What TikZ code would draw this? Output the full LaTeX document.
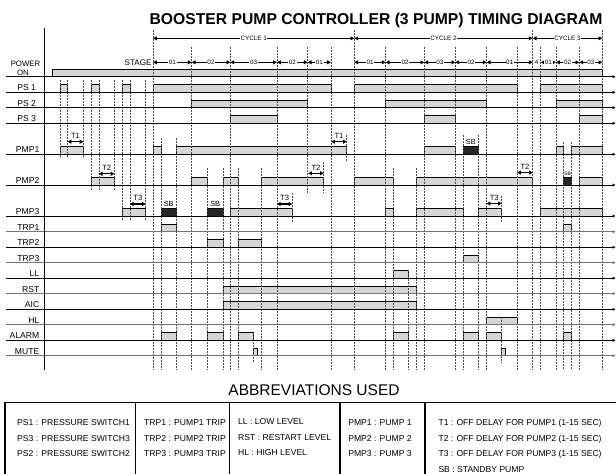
\documentclass[tikz,border=0pt]{standalone}
\usepackage{fontspec}
\setmainfont{Liberation Sans}
\usetikzlibrary{arrows.meta}
\newcommand\mybars[3][bar]{\foreach \xa/\xb in {#3}{\draw[#1] (\xa,#2) rectangle (\xb,#2-7.7);}}
\begin{document}
\begin{tikzpicture}[x=1pt,y=-1pt,
  bar/.style={draw=black, line width=0.6pt, fill=black!16},
  sbbar/.style={draw=black, line width=0.6pt, fill=black!85},
  vline/.style={draw=black!70, line width=0.6pt, dash pattern=on 2.2pt off 0.8pt},
  rowline/.style={line width=0.8pt, -{Triangle[length=3pt,width=2.8pt]}},
  lbl/.style={font=\fontsize{8.6}{9}\selectfont, inner sep=0pt},
  stg/.style={line width=0.9pt, {Triangle[length=3.8pt,width=3.8pt]}-{Triangle[length=3.8pt,width=3.8pt]}},
  stglbl/.style={font=\fontsize{6.3}{7}\selectfont, fill=white, inner sep=0.7pt},
  tarr/.style={line width=1.3pt, {Triangle[length=3.6pt,width=4pt]}-{Triangle[length=3.6pt,width=4pt]}},
  tlbl/.style={font=\fontsize{7.6}{8}\selectfont, inner sep=0pt, anchor=base},
  tab/.style={font=\fontsize{8.6}{9}\selectfont, inner sep=0pt, anchor=base west}]
\useasboundingbox (0,0) rectangle (616,474);

% ---------- bars ----------
\mybars{76.7}{52.3/602.3}
\mybars{92.3}{60/67.7, 91/99, 122.3/130, 153/331, 354.3/517.3, 540.7/602.3}
\mybars{107.7}{191.7/307.7, 385.7/486.7, 556/602.3}
\mybars{123.3}{230.3/277, 424.3/455.3, 579.3/602.3}
\mybars{154.3}{60/83.3, 153/161, 176.3/346.7, 424.3/455.3, 556/563.7, 571.7/602.3}
\mybars[sbbar]{154.3}{463/478.7}
\mybars{185}{91/114.3, 191.7/207.3, 223/238.3, 261.7/323.7, 354.3/393.3, 416.7/532.7, 579.3/602.3}
\mybars[sbbar]{185}{563.7/571.7}
\mybars{216}{122.3/145.7, 230.3/292.3, 385.7/393.3, 416.7/463, 478.7/501.7, 540.7/602.3}
\mybars[sbbar]{216}{161/176.3, 207.3/223}
\mybars{231.7}{161/176.3, 563.7/571.7}
\mybars{247.3}{207.3/223, 238.3/261.7}
\mybars{262.7}{463/478.7}
\mybars{278.2}{393.3/408.7}
\mybars{293.7}{223/416.7}
\mybars{309.3}{223/416.7}
\mybars{324.7}{486.7/517.3}
\mybars{340.3}{161/176.3, 207.3/223, 238.3/253.5, 393.3/408.7, 463/478.7, 486.7/501.7, 563.7/571.7}
\mybars{355.7}{253.5/257.7, 501.7/505.7}

% ---------- vertical timing lines ----------
\foreach \x/\ya/\yb in {60/80/158, 67.7/80/158, 83.3/80/158,
  91/80/191, 99/80/191, 114.3/80/191,
  122.3/80/221, 130/80/221, 145.7/80/221,
  153/30/370, 161/138/370, 176.3/138/370, 191.7/47/370, 207.3/168/370,
  223/168/370, 230.3/47/370, 238.3/168/370, 253.5/333/363, 261.7/168/370,
  277/47/370, 292.3/193/223, 307.7/47/193, 323.7/162/193, 331/47/370,
  346.7/135/162, 354.3/30/370, 385.7/47/370, 393.3/168/370, 408.7/270/370,
  416.7/168/370, 424.3/47/370, 455.3/47/370, 463/135/370, 478.7/135/370,
  486.7/47/370, 501.7/196/222, 501.7/317/363, 517.3/47/370, 532.7/30/370,
  540.7/47/370, 556/47/370, 563.7/142/370, 571.7/142/370, 579.3/47/370,
  602.3/30/370}
  {\draw[vline] (\x,\ya) -- (\x,\yb);}

% ---------- row lines ----------
\foreach \y/\c in {76.7/black, 92.3/black, 107.7/black, 123.3/black,
  154.3/black, 185/black, 216/black, 231.7/black!55, 247.3/black,
  262.7/black!55, 278.2/black, 293.7/black!55, 309.3/black,
  324.7/black!55, 340.3/black, 355.7/black!55}
  {\draw[rowline, draw=\c] (6,\y) -- (615.5,\y);}

% left axis
\draw[line width=1.6pt] (44.3,28) -- (44.3,370);

% ---------- row labels ----------
\node[font=\fontsize{7.8}{8}\selectfont, inner sep=0pt, anchor=base] (lPOW) at (25.5,66) {POWER};
\node[font=\fontsize{7.8}{8}\selectfont, inner sep=0pt, anchor=base] (lON) at (23,75.3) {ON};
\foreach \t/\y/\n in {PS 1/90.7/ps1, PS 2/106.1/ps2, PS 3/121.7/ps3}
  {\node[lbl, anchor=base east] (l\n) at (36.2,\y) {\t};}
\foreach \t/\y/\n in {PMP1/152.7/m1, PMP2/183.4/m2, PMP3/214.4/m3,
  TRP1/230.1/r1, TRP2/245.7/r2, TRP3/261.1/r3, LL/276.6/ll, RST/292.1/rst,
  AIC/307.7/aic, HL/323.1/hl, ALARM/338.7/al, MUTE/354.1/mu}
  {\node[lbl, anchor=base east] (l\n) at (39.5,\y) {\t};}

% ---------- title ----------
\node[anchor=base, inner sep=0pt, font=\fontsize{15.7}{16}\selectfont\bfseries] (title) at (376,24) {BOOSTER PUMP CONTROLLER (3 PUMP) TIMING DIAGRAM};

% ---------- cycles ----------
\foreach \xa/\xb/\t [count=\i] in {153/354.3/CYCLE 1, 354.3/532.7/CYCLE 2, 532.7/602.3/CYCLE 3}
  {\draw[stg] (\xa,38.3) -- (\xb,38.3);
   \node[stglbl] (cy\i) at ({(\xa+\xb)/2},38.3) {\t};}

% ---------- stages ----------
\node[anchor=base east, inner sep=0pt, font=\fontsize{8.1}{9}\selectfont] (stage) at (151.8,65.3) {STAGE};
\foreach \xa/\xb/\t [count=\i] in {153/191.7/01, 191.7/230.3/02, 230.3/277/03,
  277/307.7/02, 307.7/331/01, 354.3/385.7/01, 385.7/424.3/02, 424.3/455.3/03,
  455.3/486.7/02, 486.7/532.7/01, 540.7/556/01, 556/579.3/02, 579.3/602.3/03}
  {\draw[stg] (\xa,62.3) -- (\xb,62.3);
   \node[stglbl] (st\i) at ({(\xa+\xb)/2},62.3) {\t};}
\node[stglbl] (st4) at (536.7,62.3) {4};

% ---------- delay arrows ----------
\foreach \xa/\xb/\y/\t [count=\i] in {67.7/83.3/141.7/T1, 331.3/346.7/141.7/T1,
  99/114.3/173.8/T2, 308.3/323.7/173.3/T2, 517.3/532.7/172.6/T2,
  130/145.7/204/T3, 277/292.3/204/T3, 486.7/501.7/203.5/T3}
  {\draw[tarr] (\xa,\y) -- (\xb,\y);
   \node[tlbl] (t\i) at ({(\xa+\xb)/2},\y-3.3) {\t};}

% ---------- standby labels ----------
\node[tlbl, font=\fontsize{7.4}{8}\selectfont] (sb1) at (168.7,206.4) {SB};
\node[tlbl, font=\fontsize{7.4}{8}\selectfont] (sb2) at (215.2,206.4) {SB};
\node[tlbl, font=\fontsize{7.4}{8}\selectfont] (sb3) at (470.8,144.2) {SB};
\node[tlbl, font=\fontsize{5}{6}\selectfont] (sb4) at (567.7,175) {SB};

% ---------- abbreviations ----------
\node[anchor=base, inner sep=0pt, font=\fontsize{15.5}{16}\selectfont] (abbr) at (314,395) {ABBREVIATIONS USED};
\draw[line width=1pt] (5,402) -- (616,402);
\foreach \x in {5,135.5,229.5,340,425} {\draw[line width=1.5pt] (\x,402) -- (\x,474);}
\node[tab] (a1) at (17,425.5) {PS1 : PRESSURE SWITCH1};
\node[tab] (a2) at (17,441) {PS3 : PRESSURE SWITCH3};
\node[tab] (a3) at (17,456.5) {PS2 : PRESSURE SWITCH2};
\node[tab] (b1) at (144,425.5) {TRP1 : PUMP1 TRIP};
\node[tab] (b2) at (144,441) {TRP2 : PUMP2 TRIP};
\node[tab] (b3) at (144,456.5) {TRP3 : PUMP3 TRIP};
\node[tab] (c1) at (238,424.5) {LL : LOW LEVEL};
\node[tab] (c2) at (238,440) {RST : RESTART LEVEL};
\node[tab] (c3) at (238,455) {HL : HIGH LEVEL};
\node[tab, anchor=base] (d1) at (380,425.5) {PMP1 : PUMP 1};
\node[tab, anchor=base] (d2) at (380,441) {PMP2 : PUMP 2};
\node[tab, anchor=base] (d3) at (380,456.5) {PMP3 : PUMP 3};
\node[tab] (e1) at (438.3,425.5) {T1 : OFF DELAY FOR PUMP1 (1-15 SEC)};
\node[tab] (e2) at (438.3,441) {T2 : OFF DELAY FOR PUMP2 (1-15 SEC)};
\node[tab] (e3) at (438.3,456.5) {T3 : OFF DELAY FOR PUMP3 (1-15 SEC)};
\node[tab] (e4) at (438.3,472) {SB : STANDBY PUMP};
\end{tikzpicture}
\end{document}
